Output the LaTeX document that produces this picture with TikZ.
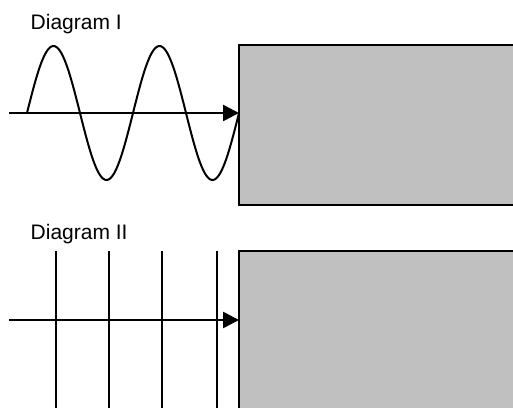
\documentclass[tikz,border=0pt]{standalone}
\usepackage{fontspec}
\setmainfont{Liberation Sans}
\usetikzlibrary{arrows.meta}
\definecolor{boxgray}{HTML}{C0C0C0}
\tikzset{
  target/.style={draw=black, line width=1.8pt, fill=boxgray, rectangle, inner sep=0pt, outer sep=0pt},
  ray/.style={line width=2.6pt, -{Triangle[length=16pt, width=16pt]}},
  wave/.style={line width=2pt},
  front/.style={line width=2pt},
  label/.style={anchor=base west, inner sep=0pt, font=\fontsize{21}{25}\selectfont}
}
\begin{document}
\begin{tikzpicture}[x=1pt, y=-1pt]
\useasboundingbox (0,0) rectangle (513,407);
% Diagram I
\node[label] (t1) at (30.5,29) {Diagram I};
\node[target, minimum width=300pt, minimum height=160pt] (r1) at (389,125) {};
\draw[wave] plot[domain=0:2, samples=150, smooth] ({27+106*\x}, {113-67*sin(360*\x)});
\coordinate (s1) at (9,113);
\draw[ray] (s1) -- (r1.west |- s1);
% Diagram II
\node[label] (t2) at (30.5,239) {Diagram II};
\node[target, minimum width=300pt, minimum height=180pt] (r2) at (389,341) {};
\foreach \xx in {56,109,162,217} {
  \draw[front] (\xx,251) -- (\xx,420);
}
\coordinate (s2) at (9,320);
\draw[ray] (s2) -- (r2.west |- s2);
\end{tikzpicture}
\end{document}
